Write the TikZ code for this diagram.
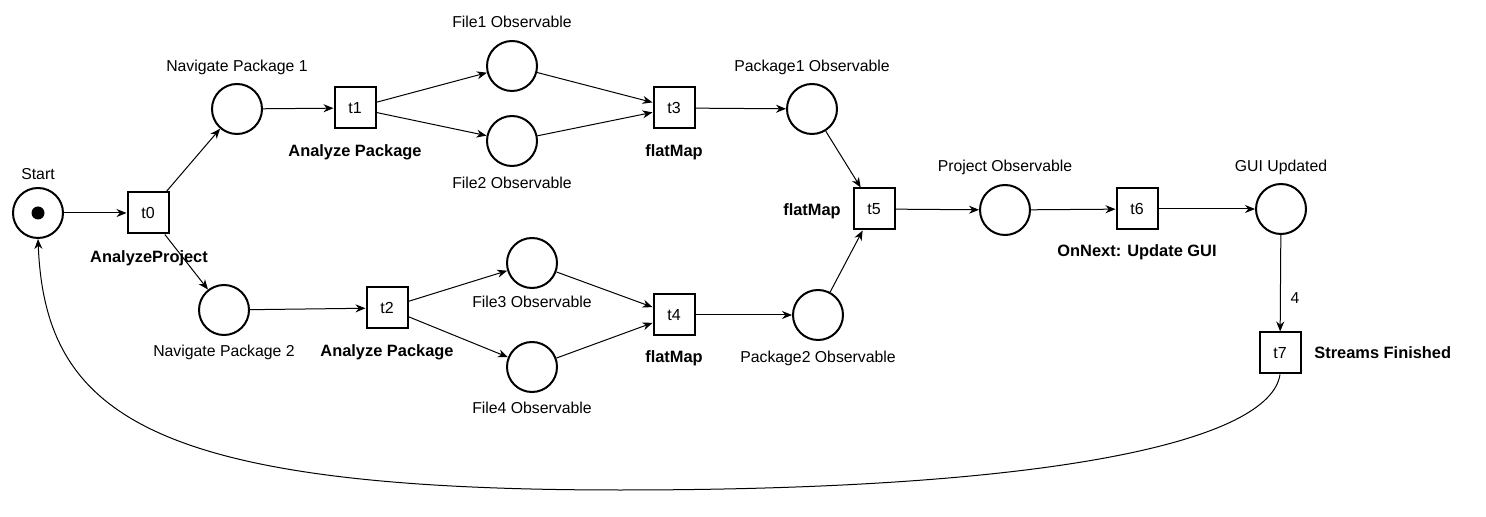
\documentclass[tikz,border=0pt]{standalone}
\usepackage{fontspec}
\setmainfont{Liberation Sans}
\usetikzlibrary{arrows.meta}
\begin{document}
\begin{tikzpicture}[x=0.5pt,y=-0.5pt,
  place/.style={draw,circle,line width=1pt,minimum size=25pt,inner sep=0pt},
  trans/.style={draw,rectangle,line width=1pt,minimum size=20.5pt,inner sep=0pt,font=\fontsize{8}{9.6}\selectfont},
  lbl/.style={font=\fontsize{7.9}{9.5}\selectfont,inner sep=0pt},
  blbl/.style={font=\fontsize{8.2}{9.8}\selectfont\bfseries,inner sep=0pt},
  arc/.style={line width=0.5pt,-{Stealth[length=5pt,width=4pt]}},
  token/.style={fill=black,circle,minimum size=6.5pt,inner sep=0pt}]
\useasboundingbox (0,0) rectangle (1486,517);
% places
\node[place] (start) at (38,213) {};
\node[token] (tok) at (38,213) {};
\node[place] (np1) at (237,109) {};
\node[place] (np2) at (224,310) {};
\node[place] (f1) at (512,66) {};
\node[place] (f2) at (512,141) {};
\node[place] (f3) at (532,263) {};
\node[place] (f4) at (532,367) {};
\node[place] (p1) at (812,109) {};
\node[place] (p2) at (818,315) {};
\node[place] (po) at (1005,210) {};
\node[place] (gui) at (1281,209) {};
% transitions
\node[trans] (t0) at (148,213) {t0};
\node[trans] (t1) at (355,108) {t1};
\node[trans] (t2) at (387,308) {t2};
\node[trans] (t3) at (674,108) {t3};
\node[trans] (t4) at (674,315) {t4};
\node[trans] (t5) at (874,209) {t5};
\node[trans] (t6) at (1137,209) {t6};
\node[trans] (t7) at (1280,353) {t7};
% place labels
\node[lbl] (lstart) at (38,174) {Start};
\node[lbl] (lnp1) at (237,67) {Navigate Package 1};
\node[lbl] (lnp2) at (224,352) {Navigate Package 2};
\node[lbl] (lf1) at (512,22) {File1 Observable};
\node[lbl] (lf2) at (512,183) {File2 Observable};
\node[lbl] (lf3) at (532,302) {File3 Observable};
\node[lbl] (lf4) at (532,408) {File4 Observable};
\node[lbl] (lp1) at (812,67) {Package1 Observable};
\node[lbl] (lp2) at (818,358) {Package2 Observable};
\node[lbl] (lpo) at (1005,167) {Project Observable};
\node[lbl] (lgui) at (1281,167) {GUI Updated};
% transition labels
\node[blbl] (lt0) at (149,258) {AnalyzeProject};
\node[blbl] (lt1) at (355,152) {Analyze Package};
\node[blbl] (lt2) at (387,352) {Analyze Package};
\node[blbl] (lt3) at (674,152) {flatMap};
\node[blbl] (lt4) at (674,358) {flatMap};
\node[blbl] (lt5) at (812,211) {flatMap};
\node[blbl] (lt6) at (1137,252) {OnNext: Update GUI};
\node[blbl,anchor=west] (lt7) at (1314,353) {Streams Finished};
\node[lbl] (w4) at (1295,298) {4};
% arcs
\draw[arc] (start) -- (t0);
\draw[arc] (t0) -- (np1);
\draw[arc] (t0) -- (np2);
\draw[arc] (np1) -- (t1);
\draw[arc] (np2) -- (t2);
\draw[arc] (t1) -- (f1);
\draw[arc] (t1) -- (f2);
\draw[arc] (t2) -- (f3);
\draw[arc] (t2) -- (f4);
\draw[arc] (f1) -- (t3);
\draw[arc] (f2) -- (t3);
\draw[arc] (f3) -- (t4);
\draw[arc] (f4) -- (t4);
\draw[arc] (t3) -- (p1);
\draw[arc] (t4) -- (p2);
\draw[arc] (p1) -- (t5);
\draw[arc] (p2) -- (t5);
\draw[arc] (t5) -- (po);
\draw[arc] (po) -- (t6);
\draw[arc] (t6) -- (gui);
\draw[arc] (gui) -- (t7);
\draw[arc] (t7.south) .. controls (1270,440) and (1060,490) .. (620,490)
  .. controls (150,490) and (45,415) .. (start.south);
\end{tikzpicture}
\end{document}
